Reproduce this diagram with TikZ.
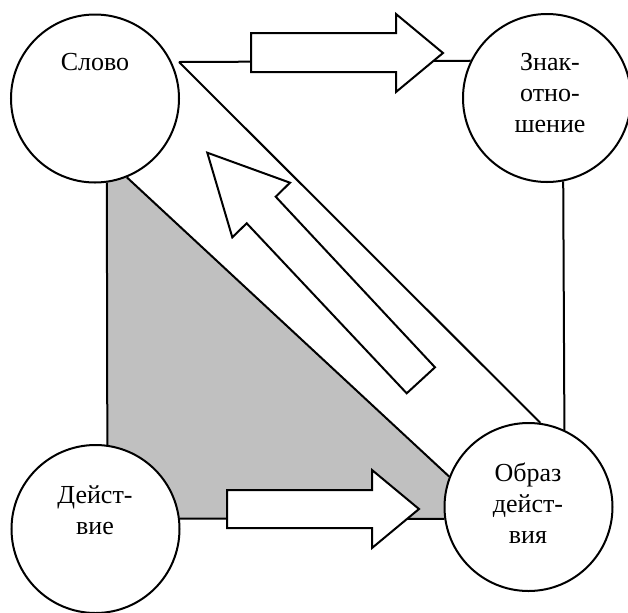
\documentclass[tikz,border=0pt]{standalone}
\usepackage{fontspec}
\setmainfont{Liberation Serif}
\usetikzlibrary{backgrounds}
\definecolor{areagray}{HTML}{C0C0C0}
\begin{document}
\begin{tikzpicture}[x=0.5pt,y=-0.5pt,
  circ/.style={circle,draw,fill=white,line width=1pt,minimum size=84pt,inner sep=0pt},
  lbl/.style={anchor=north,align=center,inner sep=0pt,font=\fontsize{13}{15.5}\selectfont},
  conn/.style={line width=1pt},
  blockarrow/.style={draw,fill=white,line width=1pt,line join=miter}]
\useasboundingbox (0,0) rectangle (628,612);

% the four concepts
\node[circ] (slovo)    at (95,98.5)  {};
\node[circ] (znak)     at (547,98)   {};
\node[circ] (deistvie) at (95.5,529) {};
\node[circ] (obraz)    at (528.5,507) {};

\node[lbl] (slovo-t)    at (95,53)  {Слово};
\node[lbl] (znak-t)     at (550,53) {Знак-\\отно-\\шение};
\node[lbl] (deistvie-t) at (95,485) {Дейст-\\вие};
\node[lbl] (obraz-t)    at (528,462) {Образ\\дейст-\\вия};

\coordinate (apex) at (179,62);

% grey triangle between the word, the action and the image of action
\begin{pgfonlayer}{background}
  \fill[areagray] (slovo.-82) -- (deistvie.82) -- (deistvie.center) -- (deistvie.7.5)
    -- (obraz.-172.5) -- (obraz.center) -- (obraz.159.8) -- (slovo.-68.7)
    -- (slovo.center) -- cycle;
\end{pgfonlayer}

% connecting lines
\draw[conn] (apex) -- (znak.154.6);
\draw[conn] (apex) -- (obraz.82.9);
\draw[conn] (znak.-79) -- (obraz.65.9);
\draw[conn] (slovo.-82) -- (deistvie.82);
\draw[conn] (deistvie.7.5) -- (obraz.-172.5);
\draw[conn] (slovo.-68.7) -- (obraz.159.8);

% block arrows
\draw[blockarrow] (251,33) -- (396,33) -- (396,14) -- (443,53) -- (396,92)
  -- (396,72) -- (251,72) -- cycle;
\draw[blockarrow] (227,490) -- (372,490) -- (372,470) -- (419,509) -- (372,548)
  -- (372,528) -- (227,528) -- cycle;
\draw[blockarrow] (207.3,152.7) -- (290,182.7) -- (275.7,196.7) -- (435,367.3)
  -- (406.7,393.3) -- (246.7,223.3) -- (232.3,237.3) -- cycle;
\end{tikzpicture}
\end{document}
